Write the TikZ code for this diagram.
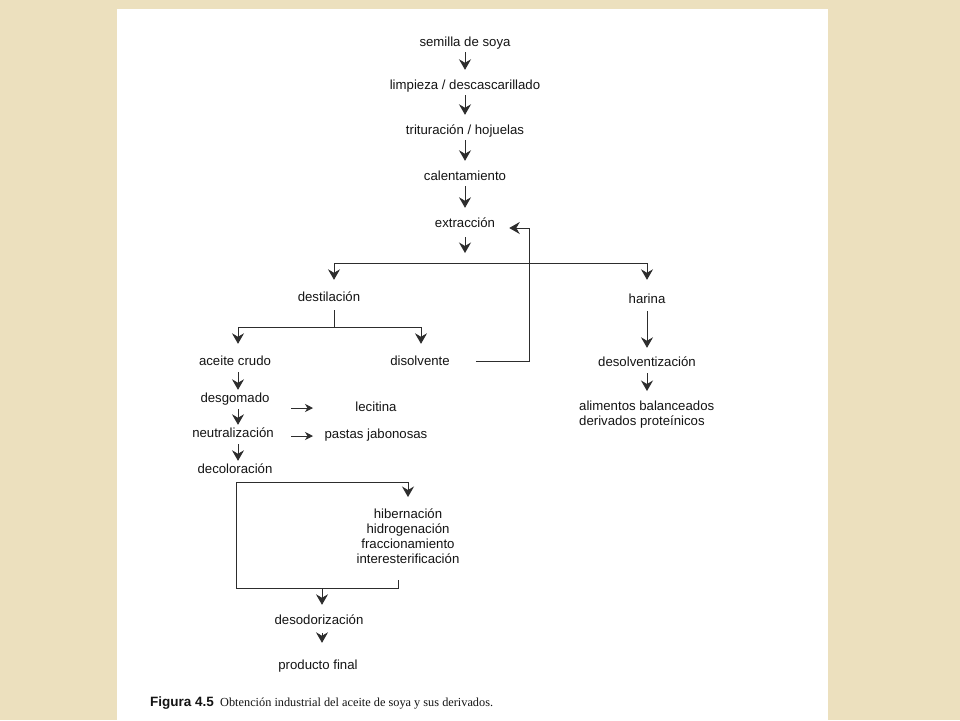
\documentclass[tikz,border=0pt]{standalone}
\usepackage{fontspec}
\setmainfont{Liberation Sans}
\newfontfamily\capserif{Liberation Serif}
\usetikzlibrary{arrows.meta}
\definecolor{parch}{RGB}{236,224,190}
\definecolor{txt}{RGB}{20,20,20}
\definecolor{linec}{RGB}{45,45,45}
\begin{document}
\begin{tikzpicture}[x=1pt,y=-1pt,
  lab/.style={font=\fontsize{13.2}{15}\selectfont, text=txt, inner sep=0pt, text height=11pt, text depth=1pt},
  mlab/.style={font=\fontsize{13.2}{15}\selectfont, text=txt, inner sep=0pt},
  ln/.style={draw=linec, line width=0.9pt},
  arr/.style={ln, -{Stealth[length=10.5pt,width=12pt,inset=3.5pt]}},
  sarr/.style={ln, -{Stealth[length=8pt,width=8pt,inset=2.5pt]}},
  flow/.style={arr, shorten <=5pt, shorten >=8pt},
  lflow/.style={arr, shorten <=6pt, shorten >=1pt}]
\fill[parch] (0,0) rectangle (960,720);
\fill[white] (117,9) rectangle (828,720);
\useasboundingbox (0,0) rectangle (960,720);

% nodes
\node[lab] (semilla) at (465,41) {semilla de soya};
\node[lab] (limp) at (465,84) {limpieza / descascarillado};
\node[lab] (trit) at (465,129) {trituración / hojuelas};
\node[lab] (cal) at (465,175) {calentamiento};
\node[lab] (ext) at (465,222) {extracción};
\node[lab] (dest) at (329,296) {destilación};
\node[lab] (har) at (647,298) {harina};
\node[lab] (acr) at (235,360) {aceite crudo};
\node[lab] (dis) at (420,360) {disolvente};
\node[lab] (desolv) at (647,361) {desolventización};
\node[mlab, align=left, anchor=north west] (alim) at (579,401) {alimentos balanceados\\derivados proteínicos};
\node[lab] (desg) at (235,397) {desgomado};
\node[lab] (neut) at (233,432) {neutralización};
\node[lab] (decol) at (235,468) {decoloración};
\node[lab] (lec) at (376,406) {lecitina};
\node[lab] (pas) at (376,433) {pastas jabonosas};
\node[mlab, align=center, anchor=north] (hib) at (408,508.5) {hibernación\\hidrogenación\\fraccionamiento\\interesterificación};
\node[lab] (deso) at (319,619) {desodorización};
\node[lab] (prod) at (318,664) {producto final};

\node[anchor=base west, inner sep=0pt, text=txt, font=\fontsize{13.5}{15}\selectfont\bfseries] (fig) at (150,706.5) {Figura 4.5};
\node[anchor=base west, inner sep=0pt, text=txt, font=\capserif\fontsize{12.3}{14}\selectfont] (capt) at (220,706.5) {Obtención industrial del aceite de soya y sus derivados.};

% coordinates
\coordinate (split) at (465,263);
\coordinate (sL) at (334,263);
\coordinate (sR) at (647,263);
\coordinate (dJ) at (334,327);
\coordinate (dL) at (238,327);
\coordinate (dR) at (421,327);
\coordinate (cx) at (238,0);
\coordinate (fb) at (529,0);
\coordinate (l1a) at (291,408);
\coordinate (l1b) at (313,408);
\coordinate (l2a) at (291,436);
\coordinate (l2b) at (313,436);
\coordinate (lp) at (236,482);
\coordinate (lb) at (236,588);
\coordinate (rb) at (398,588);
\coordinate (rt) at (398,580);
\coordinate (dm) at (322,588);

% main column
\draw[flow] (semilla) -- (limp);
\draw[flow] (limp) -- (trit);
\draw[flow] (trit) -- (cal);
\draw[flow] (cal) -- (ext);
\draw[arr, shorten <=9pt, shorten >=10pt] (ext.south) -- (split);

% split
\draw[ln] (sL) -- (sR);
\draw[arr, shorten >=10pt] (sL) -- (sL |- dest.north);
\draw[arr, shorten >=12pt] (sR) -- (sR |- har.north);

% destilacion
\draw[ln, shorten <=8pt] (dest.south -| dJ) -- (dJ);
\draw[ln] (dL) -- (dR);
\draw[arr, shorten >=10pt] (dL) -- (dL |- acr.north);
\draw[arr, shorten >=10pt] (dR) -- (dR |- dis.north);

% feedback of solvent
\draw[arr, shorten <=26pt, shorten >=14pt] ([yshift=-1pt]dis.east) -- ([yshift=-1pt]dis.east -| fb) -- ([yshift=-6pt]ext.east -| fb) -- ([yshift=-6pt]ext.east);

% harina branch
\draw[arr, shorten <=7pt, shorten >=7pt] (har) -- (desolv);
\draw[arr, shorten <=6pt, shorten >=10pt] (desolv.south) -- (desolv.south |- alim.north);

% oil refining
\draw[lflow] (acr.south -| cx) -- (desg.north -| cx);
\draw[lflow] (desg.south -| cx) -- (neut.north -| cx);
\draw[lflow] (neut.south -| cx) -- (decol.north -| cx);
\draw[sarr] (l1a) -- (l1b);
\draw[sarr] (l2a) -- (l2b);

% loop
\draw[arr, shorten >=11.5pt] (lp) -- (lp -| hib.north) -- (hib.north);
\draw[ln] (lp) -- (lb) -- (rb) -- (rt);
\draw[arr, shorten >=8pt] (dm) -- (dm |- deso.north);
\draw[arr, shorten <=8pt, shorten >=15pt] (deso.south -| dm) -- (prod.north -| dm);
\end{tikzpicture}
\end{document}
